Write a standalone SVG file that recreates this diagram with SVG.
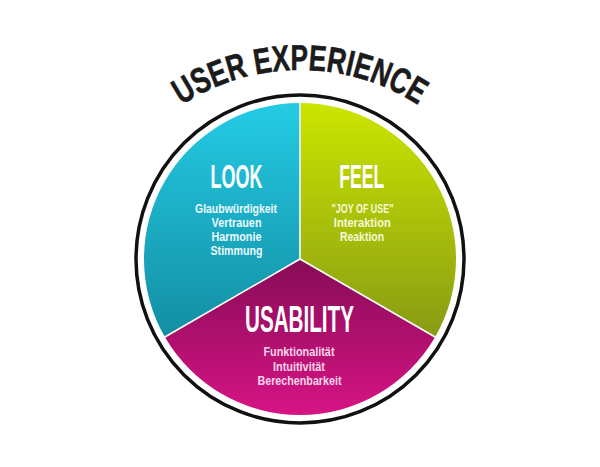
<svg xmlns="http://www.w3.org/2000/svg" width="600" height="467" viewBox="0 0 600 467">
<defs>
  <linearGradient id="gCyan" gradientUnits="userSpaceOnUse" x1="0" y1="103" x2="0" y2="337">
    <stop offset="0" stop-color="#24cbe5"/>
    <stop offset="1" stop-color="#138ea2"/>
  </linearGradient>
  <linearGradient id="gGreen" gradientUnits="userSpaceOnUse" x1="0" y1="103" x2="0" y2="337">
    <stop offset="0" stop-color="#cbe600"/>
    <stop offset="1" stop-color="#889b14"/>
  </linearGradient>
  <linearGradient id="gMag" gradientUnits="userSpaceOnUse" x1="0" y1="259" x2="0" y2="415">
    <stop offset="0" stop-color="#860b56"/>
    <stop offset="1" stop-color="#d71485"/>
  </linearGradient>
  <path id="titleArc" d="M166.4,116 A217,217 0 0 1 433.6,116"/>
  <style>
    .title { font-family: "Liberation Sans", Arial, sans-serif; font-weight: bold; font-size: 36px; fill: #1b1b1b; stroke: #1b1b1b; stroke-width: 0.6px; }
    .head { font-family: "Liberation Sans", Arial, sans-serif; font-weight: bold; fill: #ffffff; text-anchor: middle; }
    .sub { font-family: "Liberation Sans", Arial, sans-serif; font-weight: bold; font-size: 13.5px; text-anchor: middle; }
    .divider { stroke: #ffffff; stroke-width: 1.6; fill: none; }
  </style>
</defs>
<rect width="600" height="467" fill="#ffffff"/>

<g id="title">
  <text class="title"><textPath href="#titleArc" startOffset="50%" text-anchor="middle" textLength="250" lengthAdjust="spacingAndGlyphs">USER EXPERIENCE</textPath></text>
</g>

<g id="ring">
  <circle cx="300" cy="259" r="164" fill="#ffffff" stroke="#111111" stroke-width="3.5"/>
</g>

<g id="look">
  <path d="M300,259 L300,103 A156,156 0 0 0 164.9,337 Z" fill="url(#gCyan)"/>
  <text class="head" x="236.5" y="187.5" font-size="34" textLength="52" lengthAdjust="spacingAndGlyphs">LOOK</text>
  <g class="sub" fill="#eaf9fc">
    <text x="236" y="212.7" textLength="82" lengthAdjust="spacingAndGlyphs">Glaubwürdigkeit</text>
    <text x="236.5" y="226.8" textLength="50" lengthAdjust="spacingAndGlyphs">Vertrauen</text>
    <text x="236.5" y="241" textLength="50" lengthAdjust="spacingAndGlyphs">Harmonie</text>
    <text x="236.5" y="255" textLength="52" lengthAdjust="spacingAndGlyphs">Stimmung</text>
  </g>
</g>

<g id="feel">
  <path d="M300,259 L300,103 A156,156 0 0 1 435.1,337 Z" fill="url(#gGreen)"/>
  <text class="head" x="361.7" y="187.5" font-size="34" textLength="45" lengthAdjust="spacingAndGlyphs">FEEL</text>
  <g class="sub" fill="#f6f9d8">
    <text x="362.5" y="212.7" textLength="62" lengthAdjust="spacingAndGlyphs">"JOY OF USE"</text>
    <text x="362.3" y="226.8" textLength="57" lengthAdjust="spacingAndGlyphs">Interaktion</text>
    <text x="362" y="240.8" textLength="44" lengthAdjust="spacingAndGlyphs">Reaktion</text>
  </g>
</g>

<g id="usability">
  <path d="M300,259 L435.1,337 A156,156 0 0 1 164.9,337 Z" fill="url(#gMag)"/>
  <text class="head" x="299.5" y="331.5" font-size="37" textLength="109" lengthAdjust="spacingAndGlyphs">USABILITY</text>
  <g class="sub" fill="#f8d6ea">
    <text x="299" y="356" textLength="71" lengthAdjust="spacingAndGlyphs">Funktionalität</text>
    <text x="299" y="370.5" textLength="52" lengthAdjust="spacingAndGlyphs">Intuitivität</text>
    <text x="299.5" y="385" textLength="84" lengthAdjust="spacingAndGlyphs">Berechenbarkeit</text>
  </g>
</g>

<g id="dividers">
  <line class="divider" x1="300" y1="259" x2="300" y2="102"/>
  <line class="divider" x1="300" y1="259" x2="164" y2="337.5"/>
  <line class="divider" x1="300" y1="259" x2="436" y2="337.5"/>
</g>
</svg>
